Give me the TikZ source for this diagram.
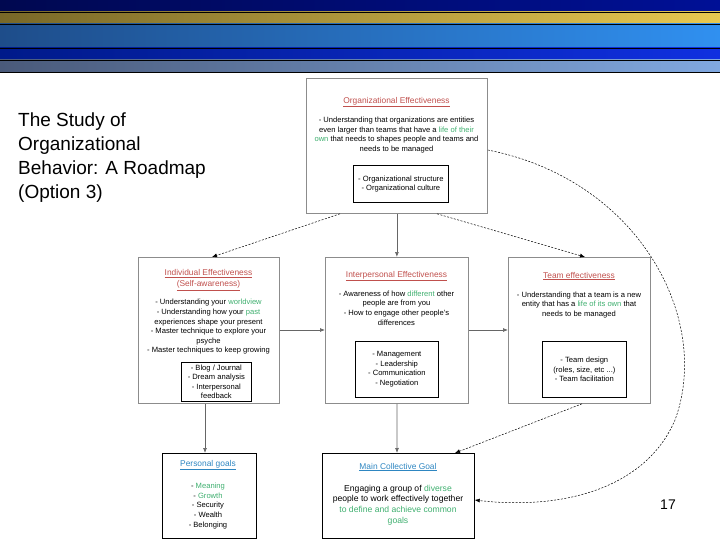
\documentclass[tikz,border=0pt]{standalone}
\usepackage{fontspec}
\setmainfont{Liberation Sans}
\usetikzlibrary{arrows.meta}
\definecolor{tred}{HTML}{C0504D}
\definecolor{tgreen}{HTML}{3FAF6F}
\definecolor{tblue}{HTML}{2E86C1}
\tikzset{
  outer/.style={draw=black!45, line width=0.8pt},
  inner/.style={draw=black, line width=0.7pt},
  txt/.style={align=center, font=\fontsize{7.6}{9.6}\selectfont, inner sep=0pt},
  ttl/.style={align=center, font=\fontsize{8.4}{10.8}\selectfont, inner sep=0pt},
  solidarr/.style={draw=black!60, line width=0.7pt, -{Latex[length=5pt,width=4pt]}},
  dasharr/.style={draw=black, dashed, dash pattern=on 2pt off 1.5pt, line width=0.5pt, -{Latex[length=5pt,width=4pt]}},
  band/.style={draw=black, line width=0.6pt}
}
\begin{document}
\begin{tikzpicture}[x=1pt,y=-1pt]
\useasboundingbox (0,0) rectangle (720,540);
% banner
\shade[left color={rgb,255:red,0;green,8;blue,80}, right color={rgb,255:red,0;green,16;blue,150}] (0,0) rectangle (720,12);
\shade[left color={rgb,255:red,120;green,104;blue,40}, right color={rgb,255:red,232;green,200;blue,80}] (0,12) rectangle (720,24);
\shade[left color={rgb,255:red,30;green,77;blue,138}, right color={rgb,255:red,48;green,144;blue,240}] (0,24) rectangle (720,48);
\shade[left color={rgb,255:red,0;green,26;blue,138}, right color={rgb,255:red,16;green,48;blue,224}] (0,48) rectangle (720,60);
\shade[left color={rgb,255:red,74;green,90;blue,122}, right color={rgb,255:red,128;green,168;blue,224}] (0,60) rectangle (720,72);
\foreach \yy in {12,24,48,60,72} \draw[band] (0,\yy) -- (720,\yy);

\node[anchor=north west, align=left, inner sep=0pt, font=\fontsize{19}{24}\selectfont] (title) at (18,113)
 {The Study of\\Organizational\\Behavior: A Roadmap\\(Option 3)};
\node[font=\fontsize{14}{16}\selectfont] (pg) at (668,505) {17};

% boxes
\node[outer, minimum width=181, minimum height=135, anchor=north west] (org) at (306,78) {};
\node[inner, minimum width=95, minimum height=37, anchor=north west] (orgi) at (353,165) {};
\node[outer, minimum width=141, minimum height=146, anchor=north west] (ind) at (138,257) {};
\node[inner, minimum width=70, minimum height=39, anchor=north west] (indi) at (181,362) {};
\node[outer, minimum width=143, minimum height=146, anchor=north west] (int) at (325,257) {};
\node[inner, minimum width=83, minimum height=56, anchor=north west] (inti) at (355,341) {};
\node[outer, minimum width=142, minimum height=146, anchor=north west] (team) at (508,257) {};
\node[inner, minimum width=84, minimum height=56, anchor=north west] (teami) at (542,341) {};
\node[inner, minimum width=94, minimum height=85, anchor=north west] (pers) at (162,453) {};
\node[inner, minimum width=152, minimum height=85, anchor=north west] (main) at (322,453) {};

% texts
\node[ttl, text=tred] (orgt) at (396.5,102) {\underline{Organizational Effectiveness}};
\node[txt] (orgx) at (396.5,135) {- Understanding that organizations are entities\\even larger than teams that have a \textcolor{tgreen}{life of their}\\\textcolor{tgreen}{own} that needs to shapes people and teams and\\needs to be managed};
\node[txt] (orgix) at (orgi) {- Organizational structure\\- Organizational culture};

\node[ttl, text=tred] (indt) at (208.5,280) {\underline{Individual Effectiveness}\\\underline{(Self-awareness)}};
\node[txt] (indx) at (208.5,327) {- Understanding your \textcolor{tgreen}{worldview}\\- Understanding how your \textcolor{tgreen}{past}\\experiences shape your present\\- Master technique to explore your\\psyche\\- Master techniques to keep growing};
\node[txt] (indix) at (indi) {- Blog / Journal\\- Dream analysis\\- Interpersonal\\feedback};

\node[ttl, text=tred] (intt) at (396.5,276) {\underline{Interpersonal Effectiveness}};
\node[txt] (intx) at (396.5,308) {- Awareness of how \textcolor{tgreen}{different} other\\people are from you\\- How to engage other people's\\differences};
\node[txt] (intix) at (inti) {- Management\\- Leadership\\- Communication\\- Negotiation};

\node[ttl, text=tred] (teamt) at (579,276) {\underline{Team effectiveness}};
\node[txt] (teamx) at (579,305) {- Understanding that a team is a new\\entity that has a \textcolor{tgreen}{life of its own} that\\needs to be managed};
\node[txt] (teamix) at (teami) {- Team design\\(roles, size, etc ...)\\- Team facilitation};

\node[ttl, text=tblue] (perst) at (208,465) {\underline{Personal goals}};
\node[txt] (persx) at (208,506) {- \textcolor{tgreen}{Meaning}\\- \textcolor{tgreen}{Growth}\\- Security\\- Wealth\\- Belonging};

\node[ttl, text=tblue] (maint) at (398,467) {\underline{Main Collective Goal}};
\node[txt, font=\fontsize{8.6}{10.8}\selectfont] (mainx) at (398,505) {Engaging a group of \textcolor{tgreen}{diverse}\\people to work effectively together\\\textcolor{tgreen}{to define and achieve common}\\\textcolor{tgreen}{goals}};

% connectors
\draw[dasharr] (org.south west -| 340,0) -- (ind.north west -| 212,0);
\draw[solidarr] (org.south) -- (int.north);
\draw[dasharr] (org.south west -| 437,0) -- (team.north west -| 585,0);
\draw[solidarr] (ind.east |- 0,330) -- (int.west |- 0,330);
\draw[solidarr] (int.east |- 0,330) -- (team.west |- 0,330);
\draw[solidarr] (ind.south west -| 205,0) -- (pers.north west -| 205,0);
\draw[solidarr] (int.south) -- (main.north west -| 397,0);
\draw[dasharr] (team.south west -| 582,0) -- (main.north west -| 455,0);
\draw[dasharr] (org.east |- 0,150) .. controls (640,180) and (712,320) .. (675,420) .. controls (645,490) and (560,510) .. (main.east |- 0,500);
\end{tikzpicture}
\end{document}
